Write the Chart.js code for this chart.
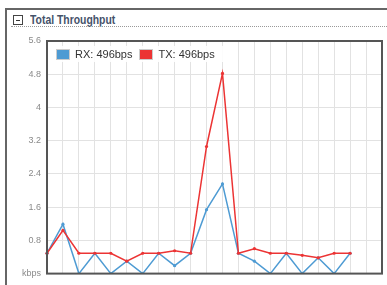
<!DOCTYPE html>
<html>
<head>
<meta charset="utf-8">
<script src="https://cdn.jsdelivr.net/npm/chart.js@4.4.1/dist/chart.umd.min.js"></script>
<style>
  html, body { margin: 0; padding: 0; background: #fff; }
  body { width: 387px; height: 285px; position: relative; overflow: hidden; font-family: "Liberation Sans", Arial, sans-serif; }
  .panel { position: absolute; left: 5px; top: 8px; width: 400px; height: 300px; border-top: 2px solid #666; border-left: 2px solid #666; }
  .head { position: absolute; left: 6px; top: 5px; height: 12px; }
  .toggle { position: absolute; left: 0; top: 0; width: 8px; height: 8px; border: 1px solid #444; }
  .toggle::after { content: ''; position: absolute; left: 2px; top: 3.5px; width: 4px; height: 1px; background: #333; }
  .title { position: absolute; left: 17px; top: -3px; white-space: nowrap; font-weight: bold; font-size: 13px; color: #45526a; transform: scaleX(0.8); transform-origin: left center; }
  .dots { position: absolute; left: 4px; right: 0; top: 16px; border-top: 1px dotted #999; }
  #wrap { position: absolute; left: 0; top: 0; width: 387px; height: 285px; }
  #legend { position: absolute; left: 52px; top: 46px; padding: 2px 4px; background: rgba(255,255,255,0.9); display: flex; align-items: center; font-size: 11px; color: #333; }
  #legend .sw { width: 12px; height: 9px; border: 1px solid #ccc; padding: 0; margin-right: 5px; }
  #legend .sw span { display: block; width: 100%; height: 100%; }
  #legend .it { display: flex; align-items: center; margin-right: 7px; }
</style>
</head>
<body>
<div class="panel">
  <div class="head"><div class="toggle"></div><div class="title">Total Throughput</div></div>
  <div class="dots"></div>
</div>
<div id="wrap"><canvas id="chart"></canvas></div>
<div id="legend"></div>
<script>
// samples (x categories), values in kbps
const samples = ['1','2','3','4','5','6','7','8','9','10','11','12','13','14','15','16','17','18','19','20','21','22'];
const rxValues = [0.49, 1.19, 0, 0.49, 0, 0.3, 0, 0.49, 0.19, 0.49, 1.54, 2.16, 0.49, 0.3, 0, 0.49, 0, 0.38, 0, 0.49, null, null];
const txValues = [0.49, 1.04, 0.49, 0.49, 0.49, 0.3, 0.49, 0.49, 0.55, 0.49, 3.06, 4.82, 0.49, 0.6, 0.49, 0.49, 0.44, 0.38, 0.49, 0.49, null, null];
const seriesNames = ['RX: 496bps', 'TX: 496bps'];
const yTicks = [0, 0.8, 1.6, 2.4, 3.2, 4, 4.8, 5.6];
const yTickLabels = ['kbps', '0.8', '1.6', '2.4', '3.2', '4', '4.8', '5.6'];

const RX_COLOR = '#4e9bd3';
const TX_COLOR = '#ec3434';

// frame around plot area
const frame = {
  id: 'frame',
  afterDraw(chart) {
    const a = chart.chartArea;
    const ctx = chart.ctx;
    ctx.save();
    ctx.strokeStyle = '#555';
    ctx.lineWidth = 2;
    ctx.strokeRect(a.left, a.top, a.right - a.left, a.bottom - a.top);
    ctx.restore();
  }
};

function renderLegend() {
  const colors = [RX_COLOR, TX_COLOR];
  document.getElementById('legend').innerHTML = seriesNames.map((n, i) =>
    `<div class="it"><div class="sw"><span style="background:${colors[i]}"></span></div>${n}</div>`
  ).join('');
}

function renderChart() {
  const ctx = document.getElementById('chart').getContext('2d');
  new Chart(ctx, {
    type: 'line',
    data: {
      labels: samples,
      datasets: [
        {
          label: seriesNames[1],
          data: txValues,
          borderColor: TX_COLOR,
          backgroundColor: TX_COLOR,
          borderWidth: 1.5,
          pointRadius: 1.6,
          pointBorderWidth: 0,
          tension: 0,
          spanGaps: false,
          order: 0
        },
        {
          label: seriesNames[0],
          data: rxValues,
          borderColor: RX_COLOR,
          backgroundColor: RX_COLOR,
          borderWidth: 1.5,
          pointRadius: 1.6,
          pointBorderWidth: 0,
          tension: 0,
          spanGaps: false,
          order: 1
        }
      ]
    },
    options: {
      responsive: true,
      maintainAspectRatio: false,
      animation: false,
      layout: { padding: { top: 41, right: 5, bottom: 7, left: 0 } },
      plugins: {
        legend: { display: false },
        tooltip: { enabled: false }
      },
      scales: {
        x: {
          offset: false,
          grid: { color: '#e2e2e2', drawTicks: false },
          border: { display: false },
          ticks: { display: false },
          afterFit(s) { s.height = 0; }
        },
        y: {
          min: 0,
          max: 5.6,
          grid: { color: '#e2e2e2', drawTicks: false },
          border: { display: false },
          afterBuildTicks(s) { s.ticks = yTicks.map(v => ({ value: v })); },
          ticks: {
            padding: 6,
            color: '#8a8a8a',
            font: { family: 'Liberation Sans', size: 9 },
            callback: (v) => yTickLabels[yTicks.indexOf(v)]
          },
          afterFit(s) { s.width = 47; }
        }
      }
    },
    plugins: [frame]
  });
}

renderLegend();
renderChart();
</script>
</body>
</html>
